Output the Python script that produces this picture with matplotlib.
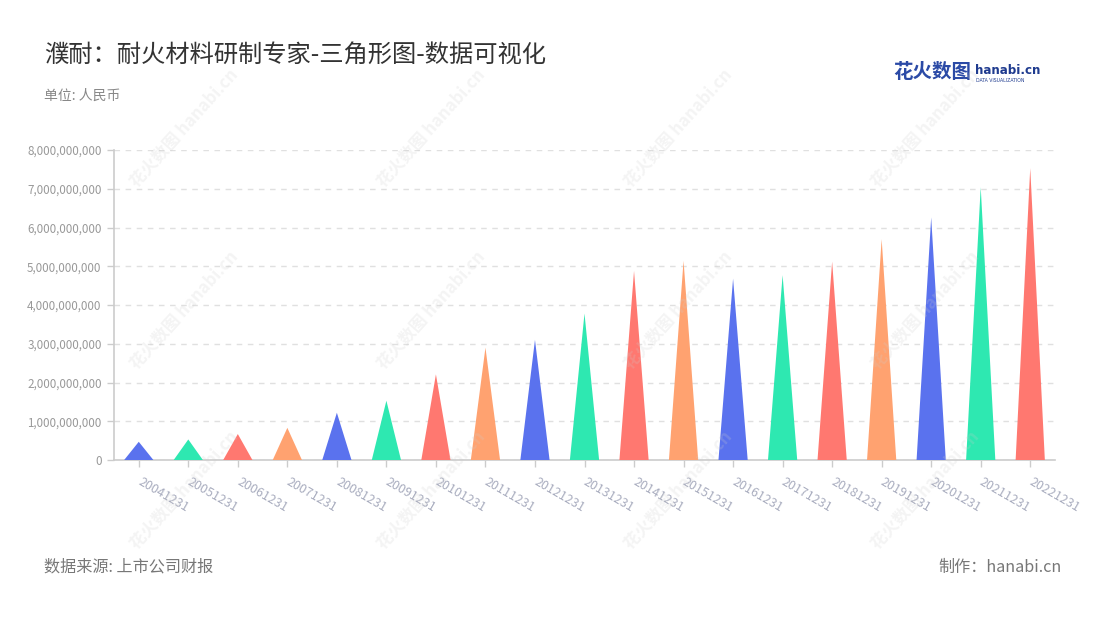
import matplotlib
matplotlib.use("Agg")
import matplotlib.pyplot as plt
from matplotlib.ticker import FuncFormatter, MultipleLocator
import numpy as np

plt.rcParams['font.family'] = ['Noto Sans CJK SC', 'DejaVu Sans']

# 数据
dates = ["20041231", "20051231", "20061231", "20071231", "20081231", "20091231",
         "20101231", "20111231", "20121231", "20131231", "20141231", "20151231",
         "20161231", "20171231", "20181231", "20191231", "20201231", "20211231",
         "20221231"]
revenue = [0.47e9, 0.53e9, 0.67e9, 0.83e9, 1.22e9, 1.53e9,
           2.21e9, 2.90e9, 3.10e9, 3.78e9, 4.88e9, 5.14e9,
           4.68e9, 4.77e9, 5.12e9, 5.70e9, 6.26e9, 7.04e9,
           7.53e9]
palette = ["#5a72ee", "#2ee8b1", "#ff7870", "#ffa270"]

title = "濮耐：耐火材料研制专家-三角形图-数据可视化"
unit = "单位: 人民币"
source = "数据来源: 上市公司财报"
maker = "制作：hanabi.cn"

fig = plt.figure(figsize=(11, 6.2), dpi=100)
ax = fig.add_axes([114 / 1100, 1 - 460 / 620, (1055 - 114) / 1100, 310 / 620])

# 三角形
half = 0.295
for i, v in enumerate(revenue):
    ax.fill([i - half, i, i + half], [0, v, 0], color=palette[i % 4], lw=0, zorder=3)

ax.set_xlim(-0.5, len(dates) - 0.5)
ax.set_ylim(0, 8e9)
ax.yaxis.set_major_locator(MultipleLocator(1e9))
ax.yaxis.set_major_formatter(FuncFormatter(lambda v, p: f"{int(v):,}"))
ax.grid(axis='y', color='#e0e0e0', linestyle=(0, (4, 4)), lw=1, zorder=0)

ax.set_xticks(range(len(dates)))
ax.set_xticklabels(dates, rotation=-30, ha='left', va='center',
                   rotation_mode='anchor', color='#a9adbf', fontsize=9)
ax.tick_params(axis='x', length=5, width=1, color='#cccccc', pad=10)
ax.tick_params(axis='y', length=5, width=1, color='#cccccc', labelcolor='#999999',
               labelsize=8.4, pad=4)
for s in ['top', 'right']:
    ax.spines[s].set_visible(False)
for s in ['left', 'bottom']:
    ax.spines[s].set_color('#cccccc')
    ax.spines[s].set_linewidth(1.2)

# 文本
fig.text(44 / 1100, 1 - 55 / 620, title, fontsize=17.5, color='#333333', va='center')
fig.text(44 / 1100, 1 - 96 / 620, unit, fontsize=10, color='#888888', va='center')
fig.text(44 / 1100, 1 - 567 / 620, source, fontsize=11.6, color='#777777', va='center')
fig.text(1062 / 1100, 1 - 567 / 620, maker, fontsize=11.6, color='#777777',
         va='center', ha='right')

# logo
fig.text(893 / 1100, 1 - 73 / 620, "花火数图", fontsize=14, color='#2b4aa6',
         fontweight='bold', va='center')
fig.text(975 / 1100, 1 - 70 / 620, "hanabi.cn", fontsize=8.6, color='#1f3b8f',
         fontweight='bold', va='center', family=['DejaVu Sans'])
fig.text(976 / 1100, 1 - 80 / 620, "DATA VISUALIZATION", fontsize=3.3, color='#1f3b8f',
         va='center', family=['DejaVu Sans'])

# 水印
for wy in [128, 310, 490]:
    for wx in [184, 431, 678, 925]:
        fig.text(wx / 1100, 1 - wy / 620, "花火数图 hanabi.cn", fontsize=12,
                 color='#cccccc', alpha=0.22, rotation=48, ha='center', va='center',
                 fontweight='bold', zorder=10)

fig.savefig("out.png", dpi=100)
